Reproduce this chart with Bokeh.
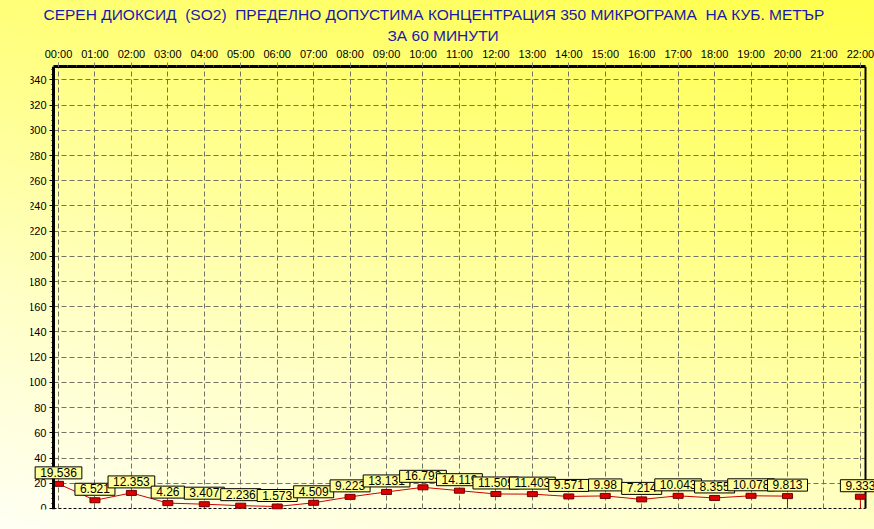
from bokeh.plotting import figure
from bokeh.models import (Label, LinearAxis, FixedTicker, Range1d,
                          SingleIntervalTicker, Title)
from bokeh.embed import file_html
from bokeh.resources import INLINE

# ---- data ----
hours = list(range(23))
hour_labels = ["%02d:00" % h for h in hours]
so2 = [19.536, 6.521, 12.353, 4.26, 3.407, 2.236, 1.573, 4.509, 9.223, 13.131,
       16.793, 14.119, 11.509, 11.403, 9.571, 9.98, 7.214, 10.043, 8.355,
       10.078, 9.813, None, 9.333]
title_line1 = "СЕРЕН ДИОКСИД \u00a0(SO2) \u00a0ПРЕДЕЛНО ДОПУСТИМА КОНЦЕНТРАЦИЯ 350 МИКРОГРАМА \u00a0НА КУБ. МЕТЪР"
title_line2 = "ЗА 60 МИНУТИ"
y_top = 350.6
# visible chart box (axis edges) and the wider frame that leaves room for labels
vis_x0, vis_x1 = -0.137, 22.14
frame_x0, frame_x1 = -0.768, 22.387
frame_y0 = -0.8

FONT = "Liberation Sans"

p = figure(width=874, height=529, output_backend="svg", toolbar_location=None,
           title=None,
           x_range=Range1d(frame_x0, frame_x1), y_range=Range1d(frame_y0, y_top),
           x_axis_location=None, y_axis_location=None,
           min_border_left=30, min_border_right=0, min_border_bottom=20,
           min_border_top=66)
p.background_fill_color = None
p.border_fill_color = None
p.outline_line_color = None
p.styles = {"background-image":
            "linear-gradient(195deg, #ffff4c 0%, #ffff80 35%, #ffffc8 70%, #fffff4 100%)"}

# top axis (closest to frame)
minor = [h / 4 for h in range(0, 22 * 4 + 1)]
xax = LinearAxis(ticker=FixedTicker(ticks=hours, minor_ticks=minor),
                 bounds=(vis_x0, vis_x1))
xax.major_label_overrides = {h: lab for h, lab in zip(hours, hour_labels)}
xax.axis_line_width = 3
xax.axis_line_color = "black"
xax.major_tick_out = 4
xax.major_tick_in = 0
xax.major_tick_line_color = "#808080"
xax.minor_tick_out = 1
xax.minor_tick_in = 0
xax.minor_tick_line_color = "#808080"
xax.major_label_standoff = 3
xax.major_label_text_font = FONT
xax.major_label_text_font_size = "11px"
xax.major_label_text_color = "black"
p.add_layout(xax, "above")

# two title lines (later added = further from frame)
for txt, off in ((title_line2, 357), (title_line1, 13)):
    t = Title(text=txt, align="left", offset=off, standoff=2,
              text_font=FONT, text_font_size="15.5px", text_font_style="normal",
              text_color="#1a1aa8")
    p.add_layout(t, "above")

# left axis, drawn at the visible box edge
yax = LinearAxis(ticker=SingleIntervalTicker(interval=20, num_minor_ticks=5),
                 fixed_location=vis_x0)
yax.axis_line_width = 3
yax.axis_line_color = "black"
yax.major_tick_out = 4
yax.major_tick_in = 0
yax.minor_tick_out = 2
yax.minor_tick_in = 0
yax.major_label_standoff = 3
yax.major_label_text_font = FONT
yax.major_label_text_font_size = "11px"
yax.major_label_text_color = "black"
p.add_layout(yax, "left")

p.xgrid.ticker = FixedTicker(ticks=hours)
p.xgrid.cross_bounds = (0, y_top)
p.ygrid.ticker = SingleIntervalTicker(interval=20)
p.ygrid.cross_bounds = (vis_x0, vis_x1)
p.ygrid.bounds = (20, y_top)
for g in (p.xgrid, p.ygrid):
    g.grid_line_color = "#727266"
    g.grid_line_dash = "5 3"
    g.grid_line_width = 1

# box edges: right solid, bottom dashed
p.segment([vis_x1], [0], [vis_x1], [y_top], line_color="black", line_width=2)
p.segment([vis_x0], [0], [vis_x1], [0], line_color="black", line_width=1,
          line_dash="3 2")

# series
ys = [float("nan") if v is None else v for v in so2]
p.line(hours, ys, line_color="#cc0000", line_width=1)

# drop lines for points adjacent to a gap
dx, dy0, dy1 = [], [], []
for i, v in enumerate(so2):
    if v is None:
        continue
    left_gap = i > 0 and so2[i - 1] is None
    right_gap = i < len(so2) - 1 and so2[i + 1] is None
    if left_gap or right_gap:
        dx.append(hours[i]); dy0.append(0); dy1.append(v)
p.segment(dx, dy0, dx, dy1, line_color="#cc0000", line_width=1)

px = [h for h, v in zip(hours, so2) if v is not None]
py = [v for v in so2 if v is not None]
p.rect(px, py, width=10, height=5, width_units="screen", height_units="screen",
       fill_color="#dd0000", line_color="#700000", line_width=1)

for x, v in zip(px, py):
    p.add_layout(Label(x=x, y=v, text=f"{v:g}", text_align="center",
                       text_baseline="bottom", y_offset=5,
                       text_font=FONT, text_font_size="12px", text_color="black",
                       background_fill_color="#ffff99", border_line_color="black",
                       border_line_width=1,
                       padding=dict(left=5, right=5, top=1, bottom=2)))

open("out.html", "w").write(file_html(p, INLINE))
